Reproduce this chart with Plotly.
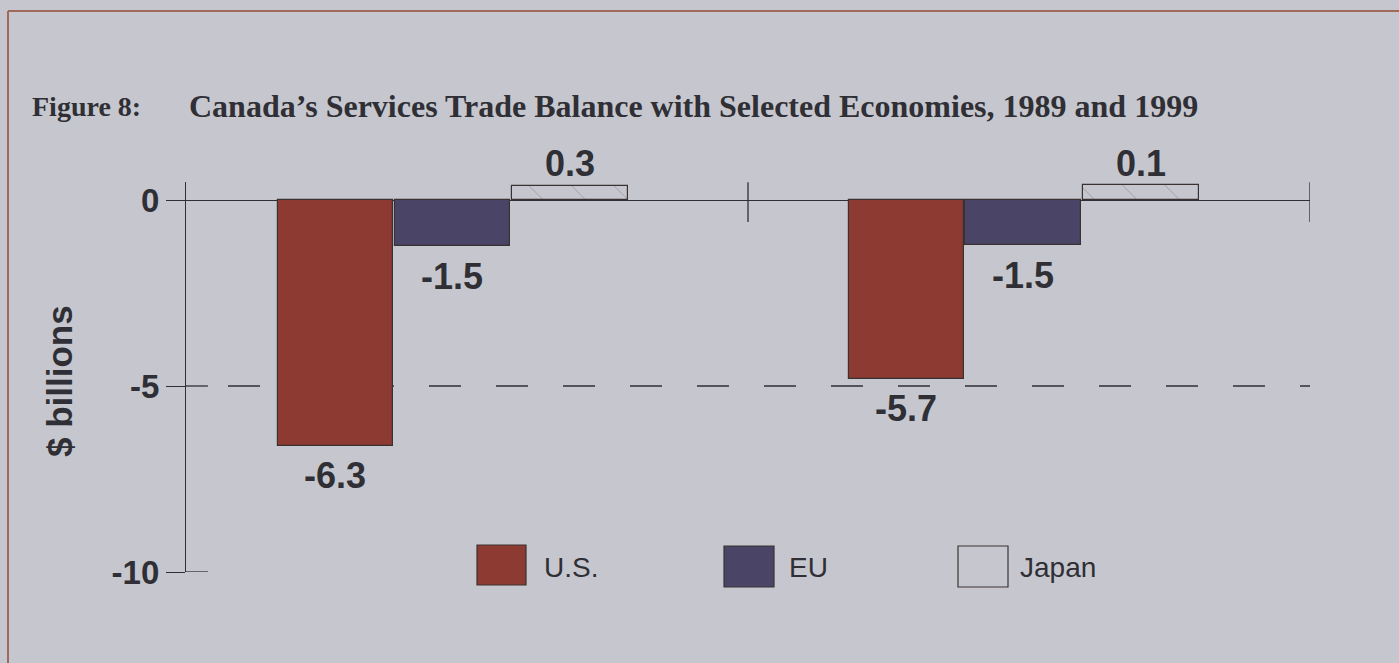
import plotly.graph_objects as go

# data
years = ["1989", "1999"]
series = ["U.S.", "EU", "Japan"]
# bar ends as drawn in the figure ($ billions)
us_vals = [-6.6, -4.8]
eu_vals = [-1.24, -1.21]
japan_vals = [0.38, 0.4]
# value labels as printed
us_text = ["-6.3", "-5.7"]
eu_text = ["-1.5", "-1.5"]
japan_text = ["0.3", "0.1"]
y_ticks = [0, -5, -10]

W, H = 1399, 663
BG = "#c6c7ce"
INK = "#2f2f35"
colors = ["#8c3a32", "#4a4467", BG]

# plot area in page pixels
L, R, T, B = 186, 1310, 182, 572


def px(x):
    return (x - L) / (R - L)


def py(y):
    return (B - y) / (B - T)


group_x = [0.474, 1.490]
offsets = [-0.208, 0.0, 0.209]
bar_w = 0.206

fig = go.Figure()
vals = [us_vals, eu_vals, japan_vals]
texts = [us_text, eu_text, japan_text]
for i, name in enumerate(series):
    xs = [g + offsets[i] for g in group_x]
    bar = go.Bar(x=xs, y=vals[i], width=bar_w, name=name,
                 marker_color=colors[i],
                 marker_line=dict(color="#3a3232", width=1.2),
                 showlegend=False, hoverinfo="skip")
    if name == "Japan":
        bar.marker.pattern = dict(shape="\\", size=30, solidity=0.03,
                                  fgcolor="#707076", bgcolor=BG)
    fig.add_trace(bar)
    for x, v, t in zip(xs, vals[i], texts[i]):
        fig.add_annotation(x=x, y=v, text="<b>%s</b>" % t, showarrow=False,
                           yshift=22 if v > 0 else -30,
                           font=dict(family="Liberation Sans", size=36, color=INK))

shapes = []
# dashed -5 line
shapes.append(dict(type="line", xref="x", yref="y", x0=0.0747, x1=2, y0=-5, y1=-5,
                   line=dict(color=INK, width=1.3, dash="32px,35px"), layer="below"))
# right halves of -5 / -10 ticks
for v in [-5, -10]:
    shapes.append(dict(type="line", xref="x", yref="y", x0=0, x1=0.039, y0=v, y1=v,
                       line=dict(color=INK, width=1.3)))
# category separators
for xv in [1, 2]:
    shapes.append(dict(type="line", xref="x", yref="y", x0=xv, x1=xv, y0=0.48, y1=-0.59,
                       line=dict(color=INK, width=1.3)))
# page border
shapes.append(dict(type="line", xref="paper", yref="paper", x0=px(8), x1=px(8),
                   y0=py(11), y1=py(H + 5), line=dict(color="#a0695a", width=2)))
shapes.append(dict(type="line", xref="paper", yref="paper", x0=px(8), x1=px(W + 5),
                   y0=py(11), y1=py(11), line=dict(color="#a0695a", width=2)))

# legend boxes
legend_boxes = [(477, 545, 526, 585), (724, 546, 774, 587), (958, 546, 1008, 587)]
legend_text_x = [542, 787, 1018]
for i, name in enumerate(series):
    x0, y0, x1, y1 = legend_boxes[i]
    shapes.append(dict(type="rect", xref="paper", yref="paper",
                       x0=px(x0), x1=px(x1), y0=py(y0), y1=py(y1),
                       fillcolor=colors[i], line=dict(color="#3a3232", width=1.2)))
    fig.add_annotation(xref="paper", yref="paper", x=px(legend_text_x[i]), y=py(567),
                       text=name, showarrow=False, xanchor="left", yanchor="middle",
                       font=dict(family="Liberation Sans", size=28, color=INK))

# title
fig.add_annotation(xref="paper", yref="paper", x=px(30), y=py(106), text="<b>Figure 8:</b>",
                   showarrow=False, xanchor="left", yanchor="middle",
                   font=dict(family="Liberation Serif", size=28, color=INK))
fig.add_annotation(xref="paper", yref="paper", x=px(187), y=py(106),
                   text="<b>Canada’s Services Trade Balance with Selected Economies, 1989 and 1999</b>",
                   showarrow=False, xanchor="left", yanchor="middle",
                   font=dict(family="Liberation Serif", size=32, color=INK))
# y axis title
fig.add_annotation(xref="paper", yref="paper", x=px(59), y=py(381), text="<b>$ billions</b>",
                   showarrow=False, textangle=-90, xanchor="center", yanchor="middle",
                   font=dict(family="Liberation Sans", size=35, color=INK))

fig.update_layout(
    width=W, height=H,
    margin=dict(l=L, r=W - R, t=T, b=H - B),
    paper_bgcolor=BG, plot_bgcolor=BG,
    bargap=0, shapes=shapes,
    xaxis=dict(range=[0, 2], visible=False),
    yaxis=dict(range=[-10, (B - T) / 37.2 - 10], tickvals=y_ticks,
               ticktext=["<b>%d</b>" % v for v in y_ticks],
               showline=True, linecolor=INK, linewidth=1.3,
               ticks="outside", ticklen=19, tickwidth=1.3, tickcolor=INK,
               showgrid=False, zeroline=True, zerolinecolor=INK, zerolinewidth=1.3,
               tickfont=dict(family="Liberation Sans", size=33, color=INK),
               layer="above traces"),
)

fig.write_html("out.html", config={"displayModeBar": False},
               post_script="document.body.style.margin='0';")
